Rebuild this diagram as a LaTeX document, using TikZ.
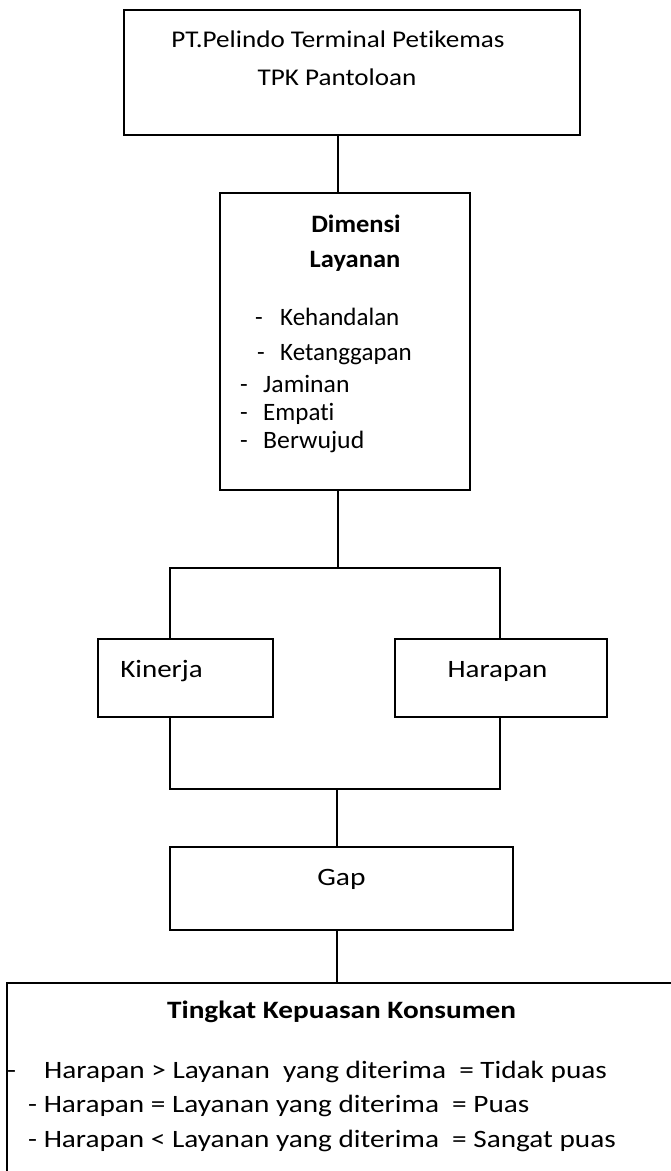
\documentclass[tikz,border=0pt]{standalone}
\usepackage{graphicx}
\usepackage{fontspec}
\setmainfont{Carlito}[Ligatures=NoCommon]
\newcommand{\hsx}[2]{\scalebox{#1}[1]{#2}}
\begin{document}
\begin{tikzpicture}[x=1pt,y=1pt,
  box/.style={draw=black,line width=1.1pt,rectangle,inner sep=0pt},
  conn/.style={draw=black,line width=1.1pt},
  txt/.style={inner sep=0pt,font=\fontsize{25}{30}\selectfont},
  ttxt/.style={inner sep=0pt,font=\fontsize{24}{29}\selectfont},
  btxt/.style={inner sep=0pt,font=\fontsize{25}{30}\selectfont\bfseries}]
\useasboundingbox (0,0) rectangle (671,-1171);
\clip (0,0) rectangle (671,-1171);
% boxes
\node[box,minimum width=456,minimum height=125] (top) at (352,-72.5) {};
\node[box,minimum width=250,minimum height=297] (dim) at (345,-341.5) {};
\node[box,minimum width=175,minimum height=78] (kin) at (185.5,-678) {};
\node[box,minimum width=212,minimum height=78] (har) at (501,-678) {};
\node[box,minimum width=343,minimum height=83] (gap) at (341.5,-888.5) {};
\node[box,minimum width=693,minimum height=217] (kep) at (353.5,-1091.5) {};
% texts
\node[ttxt,anchor=base] (t1) at (338,-47) {\hsx{1.13}{PT.Pelindo Terminal Petikemas}};
\node[ttxt,anchor=base] (t2) at (337,-85) {\hsx{1.13}{TPK Pantoloan}};
\node[btxt,anchor=base] (d1) at (356,-232) {\hsx{1.06}{Dimensi}};
\node[btxt,anchor=base] (d2) at (355,-267) {\hsx{1.06}{Layanan}};
\node[txt,anchor=base west] (d3a) at (255,-325) {-};
\node[txt,anchor=base west] (d3) at (280,-325) {Kehandalan};
\node[txt,anchor=base west] (d4a) at (257,-360) {-};
\node[txt,anchor=base west] (d4) at (280,-360) {Ketanggapan};
\node[txt,anchor=base west] (d5a) at (240,-392) {-};
\node[txt,anchor=base west] (d5) at (263,-392) {\hsx{1.03}{Jaminan}};
\node[txt,anchor=base west] (d6a) at (240,-420) {-};
\node[txt,anchor=base west] (d6) at (263,-420) {Empati};
\node[txt,anchor=base west] (d7a) at (240,-448) {-};
\node[txt,anchor=base west] (d7) at (263,-448) {\hsx{1.03}{Berwujud}};
\node[txt,anchor=base] (k1) at (161.5,-677) {\hsx{1.16}{Kinerja}};
\node[txt,anchor=base] (h1) at (497.5,-677) {\hsx{1.16}{Harapan}};
\node[txt,anchor=base] (g1) at (341.5,-885) {\hsx{1.18}{Gap}};
\node[btxt,anchor=base] (p0) at (341.5,-1018) {\hsx{1.17}{Tingkat Kepuasan Konsumen}};
\node[txt,anchor=base west] (p1d) at (7,-1078) {\hsx{1.17}{-}};
\node[txt,anchor=base west] (p1) at (44,-1078) {\hsx{1.17}{Harapan > Layanan\ \ yang diterima\ \ = Tidak puas}};
\node[txt,anchor=base west] (p2) at (28,-1112) {\hsx{1.17}{- Harapan = Layanan yang diterima\ \ = Puas}};
\node[txt,anchor=base west] (p3) at (28,-1147) {\hsx{1.17}{- Harapan < Layanan yang diterima\ \ = Sangat puas}};
% connectors
\coordinate (c1) at (338,-160);
\coordinate (b) at (338,-568);
\coordinate (kx) at (170,-600);
\coordinate (hx) at (500,-600);
\coordinate (m) at (337,-789);
\draw[conn] (c1 |- top.south) -- (c1 |- dim.north);
\draw[conn] (c1 |- dim.south) -- (b);
\draw[conn] (kx |- kin.north) |- (b) -| (hx |- har.north);
\draw[conn] (kx |- kin.south) |- (m) -| (hx |- har.south);
\draw[conn] (m) -- (m |- gap.north);
\draw[conn] (m |- gap.south) -- (m |- kep.north);
\end{tikzpicture}
\end{document}
